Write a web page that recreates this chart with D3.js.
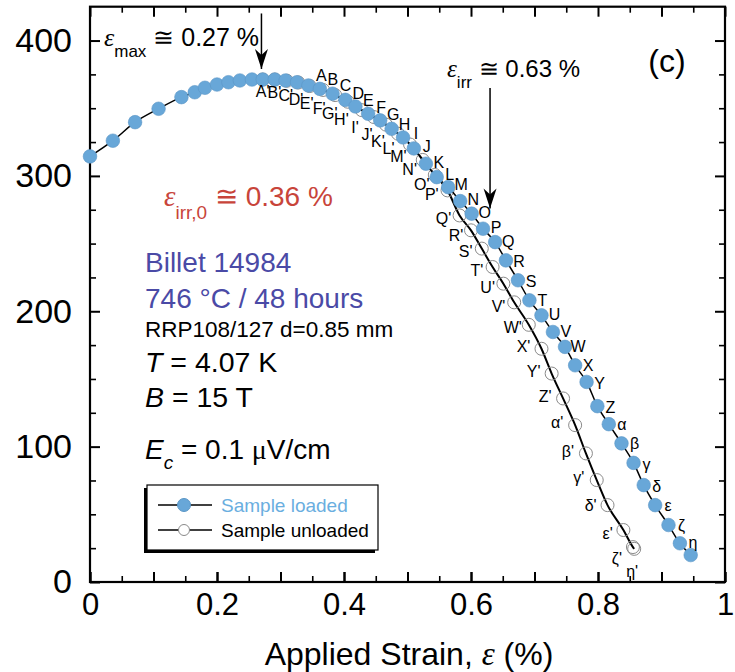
<!DOCTYPE html>
<html>
<head>
<meta charset="utf-8">
<script src="https://cdn.jsdelivr.net/npm/d3@7"></script>
<style>
  body { margin: 0; background: #fff; }
  svg text { font-family: "Liberation Sans", Arial, sans-serif; }
  .eps { font-family: "Liberation Serif", "DejaVu Serif", serif; font-style: italic; }
</style>
</head>
<body>
<svg id="chart" width="735" height="672"></svg>
<script>
// loaded: first 15 points unlabeled, then A..η, then one more
const loadedStrain = [0, 0.036, 0.071, 0.108, 0.144, 0.165, 0.181, 0.2, 0.218, 0.236, 0.255, 0.272, 0.291, 0.308, 0.326,
  0.344, 0.362, 0.382, 0.402, 0.418, 0.438, 0.457, 0.475, 0.493, 0.510, 0.529, 0.546, 0.564, 0.583, 0.601, 0.619,
  0.638, 0.655, 0.674, 0.692, 0.711, 0.729, 0.748, 0.764, 0.782, 0.799, 0.817, 0.837, 0.856, 0.872, 0.890, 0.911,
  0.929, 0.946];
const loadedIc = [314.4, 326, 339.7, 349.6, 358.2, 361.8, 365.1, 367.5, 369.2, 370.5, 371.2, 371.2, 371.2, 370.5, 369.2,
  366.8, 364.3, 360.7, 356.2, 351.3, 345.9, 341, 334.8, 328.4, 320.3, 309, 299.1, 291.7, 281.4, 272.1, 261,
  251.1, 237.6, 222.9, 208.1, 197, 184.7, 173.7, 160.1, 147.8, 129.9, 116.6, 102.4, 88, 71.6, 56.8, 42.1,
  28.6, 19.9];
const firstLabeled = 15;

// unloaded: A'..η'
const unloadedStrain = [0.272, 0.291, 0.310, 0.328, 0.346, 0.367, 0.386, 0.406, 0.428, 0.447, 0.466, 0.485, 0.504,
  0.524, 0.543, 0.563, 0.582, 0.600, 0.617, 0.634, 0.651, 0.668, 0.691, 0.711, 0.727, 0.745, 0.764, 0.781, 0.798,
  0.815, 0.840, 0.855, 0.857];
const unloadedIc = [371.2, 371.2, 370.3, 369.0, 366.4, 363.5, 359.7, 354.8, 348.6, 343.5, 337.9, 331.2, 323.2,
  311.8, 300.7, 289.3, 270.8, 259.8, 246.3, 232.7, 220.4, 206.6, 190.0, 172.3, 154.0, 135.6, 115.9, 95.0, 75.3,
  56.8, 38.4, 25.8, 24.5];

const pointNames = 'ABCDEFGHIJKLMNOPQRSTUVWXYZ'.split('').concat(['α', 'β', 'γ', 'δ', 'ε', 'ζ', 'η']);

const xLabelTicks = [0, 0.2, 0.4, 0.6, 0.8, 1];
const yLabelTicks = [0, 100, 200, 300, 400];

const blue = '#68a7d8';
const svg = d3.select('#chart');
svg.append('rect').attr('width', 735).attr('height', 672).attr('fill', '#fff');

const x = d3.scaleLinear().domain([0, 1]).range([90, 725]);
const y = d3.scaleLinear().domain([0, 425]).range([582, 6.7]);

// axes, ticks point inward on all four sides
function tickAxis (gen, tr, values, len, width, fontSize) {
  const g = svg.append('g').attr('transform', tr)
    .call(gen.tickValues(values).tickSize(-len).tickSizeOuter(0)
      .tickFormat(fontSize ? (d => d3.format('~g')(+d.toFixed(2))) : ''));
  g.select('.domain').remove();
  g.selectAll('.tick line').attr('stroke', '#000').attr('stroke-width', width);
  g.selectAll('.tick text').attr('font-size', fontSize || 0).attr('fill', '#000')
    .style('font-family', '"Liberation Sans", Arial, sans-serif');
  return g;
}
const xMajor = d3.range(0, 11).map(i => i / 10);
const xMinor = d3.range(0, 10).map(i => i / 10 + 0.05);
const yMajor = d3.range(0, 5).map(i => i * 100);
const yMinor = d3.range(0, 17).map(i => i * 25).filter(v => v % 100 !== 0);

tickAxis(d3.axisBottom(x).tickPadding(11), `translate(0,${y(0)})`, xLabelTicks, 10, 2, 31);
tickAxis(d3.axisBottom(x), `translate(0,${y(0)})`, xMajor, 10, 2);
tickAxis(d3.axisBottom(x), `translate(0,${y(0)})`, xMinor, 6, 1.6);
tickAxis(d3.axisTop(x), `translate(0,${y(425)})`, xMajor, 10, 2);
tickAxis(d3.axisTop(x), `translate(0,${y(425)})`, xMinor, 6, 1.6);
tickAxis(d3.axisLeft(y).tickPadding(18), `translate(${x(0)},0)`, yLabelTicks, 10, 2, 34);
tickAxis(d3.axisLeft(y), `translate(${x(0)},0)`, yMinor, 6, 1.6);
tickAxis(d3.axisRight(y), `translate(${x(1)},0)`, yMajor, 10, 2);
tickAxis(d3.axisRight(y), `translate(${x(1)},0)`, yMinor, 6, 1.6);

svg.append('rect')
  .attr('x', x(0)).attr('y', y(425))
  .attr('width', x(1) - x(0)).attr('height', y(0) - y(425))
  .attr('fill', 'none').attr('stroke', '#000').attr('stroke-width', 2.2);

// series
const loaded = loadedStrain.map((s, i) => ({ s, ic: loadedIc[i], i }));
const unloaded = unloadedStrain.map((s, i) => ({ s, ic: unloadedIc[i], i }));

const line = d3.line().x(d => x(d.s)).y(d => y(d.ic)).curve(d3.curveMonotoneX);

svg.append('path').datum(unloaded).attr('d', line)
  .attr('fill', 'none').attr('stroke', '#000').attr('stroke-width', 2);
svg.selectAll('.unl').data(unloaded).enter().append('circle')
  .attr('cx', d => x(d.s)).attr('cy', d => y(d.ic)).attr('r', 6.5)
  .attr('fill', 'none').attr('stroke', '#8a8a8a').attr('stroke-width', 1);

svg.append('path').datum(loaded).attr('d', line)
  .attr('fill', 'none').attr('stroke', '#000').attr('stroke-width', 1.5);
svg.selectAll('.ld').data(loaded).enter().append('circle')
  .attr('cx', d => x(d.s)).attr('cy', d => y(d.ic)).attr('r', 6.8)
  .attr('fill', blue).attr('stroke', '#5a96c6').attr('stroke-width', 0.6);

// tangent steepness of the curve at a point (0 flat .. 1 steep)
function steepness (arr, i) {
  const a = arr[Math.max(0, i - 1)], b = arr[Math.min(arr.length - 1, i + 1)];
  const ang = Math.atan2(y(b.ic) - y(a.ic), x(b.s) - x(a.s));
  return Math.min(1, Math.max(0, ang / (65 * Math.PI / 180)));
}

const lblFont = 16;
loaded.slice(firstLabeled, firstLabeled + pointNames.length).forEach((d, k) => {
  const t = steepness(loaded, d.i);
  svg.append('text')
    .attr('x', x(d.s) + 13).attr('y', y(d.ic) - 14 + 16 * t)
    .attr('dy', '0.36em').attr('text-anchor', 'middle')
    .attr('font-size', lblFont).text(pointNames[k]);
});
const nU = unloaded.length;
unloaded.forEach((d, k) => {
  const t = steepness(unloaded, d.i);
  let dx = -18 * Math.pow(t, 1.3);
  let dy = 11.5 + 36 * t - 50 * t * t;
  // the last two points overlap: one label beside, one below
  if (k === nU - 2) { dx = -16; dy = 11; }
  if (k === nU - 1) { dx = -2; dy = 22; }
  svg.append('text')
    .attr('x', x(d.s) + dx).attr('y', y(d.ic) + dy)
    .attr('dy', '0.36em').attr('text-anchor', 'middle')
    .attr('font-size', lblFont).text(pointNames[k] + "'");
});

// arrows
const defs = svg.append('defs');
defs.append('marker').attr('id', 'arr')
  .attr('markerUnits', 'userSpaceOnUse')
  .attr('viewBox', '0 -7 20 14').attr('refX', 20).attr('refY', 0)
  .attr('markerWidth', 20).attr('markerHeight', 14).attr('orient', 'auto')
  .append('path').attr('d', 'M0,-6.5 L20,0 L0,6.5 L6,0 Z').attr('fill', '#000');

function arrow (s, top, bottom) {
  svg.append('line')
    .attr('x1', x(s)).attr('x2', x(s)).attr('y1', y(top)).attr('y2', y(bottom))
    .attr('stroke', '#000').attr('stroke-width', 1.5).attr('marker-end', 'url(#arr)');
}
arrow(0.27, 420, 379);
arrow(0.63, 365, 276);

// annotations
function epsLabel (xp, yp, sub, rest, size, subSize, color) {
  const t = svg.append('text').attr('x', xp).attr('y', yp).attr('fill', color);
  t.append('tspan').attr('class', 'eps').attr('font-size', size + 1).text('ε');
  t.append('tspan').attr('font-size', subSize).attr('dy', size * 0.45).text(sub);
  t.append('tspan').attr('font-size', size).attr('dy', -size * 0.45).text(' ' + rest);
}
epsLabel(104, 46, 'max', '≅ 0.27 %', 25, 17, '#000');
epsLabel(164, 206, 'irr,0', '≅ 0.36 %', 28, 19, '#c8443a');
epsLabel(447, 77, 'irr', '≅ 0.63 %', 24, 17, '#000');

svg.append('text').attr('x', 667).attr('y', 72).attr('text-anchor', 'middle')
  .attr('font-size', 32).text('(c)');

const purple = '#4a4aa6';
svg.append('text').attr('x', 145).attr('y', 272).attr('font-size', 28).attr('fill', purple).text('Billet 14984');
svg.append('text').attr('x', 145).attr('y', 308).attr('font-size', 28).attr('fill', purple).text('746 °C / 48 hours');
svg.append('text').attr('x', 145).attr('y', 337).attr('font-size', 22.5).text('RRP108/127 d=0.85 mm');

const tT = svg.append('text').attr('x', 145).attr('y', 372).attr('font-size', 28.5);
tT.append('tspan').attr('font-style', 'italic').text('T');
tT.append('tspan').text(' = 4.07 K');
const tB = svg.append('text').attr('x', 145).attr('y', 407).attr('font-size', 28.5);
tB.append('tspan').attr('font-style', 'italic').text('B');
tB.append('tspan').text(' = 15 T');
const tE = svg.append('text').attr('x', 145).attr('y', 459).attr('font-size', 28);
tE.append('tspan').attr('font-style', 'italic').text('E');
tE.append('tspan').attr('font-size', 19).attr('font-style', 'italic').attr('dy', 10).text('c');
tE.append('tspan').attr('dy', -10).text(' = 0.1 ');
tE.append('tspan').style('font-family', '"Liberation Serif", serif').text('μ');
tE.append('tspan').text('V/cm');

// x axis title
const xt = svg.append('text').attr('x', 409).attr('y', 665).attr('text-anchor', 'middle').attr('font-size', 32);
xt.append('tspan').text('Applied Strain, ');
xt.append('tspan').attr('class', 'eps').attr('font-size', 33).text('ε');
xt.append('tspan').text(' (%)');

// legend
const lg = svg.append('g');
lg.append('rect').attr('x', 144).attr('y', 488).attr('width', 231).attr('height', 65).attr('fill', '#000');
lg.append('rect').attr('x', 147).attr('y', 485).attr('width', 231).attr('height', 65)
  .attr('fill', '#fff').attr('stroke', '#000').attr('stroke-width', 1.2);
const legendItems = [
  { name: 'Sample loaded', fill: blue, stroke: '#5a96c6', text: '#6aaee0' },
  { name: 'Sample unloaded', fill: '#fff', stroke: '#8a8a8a', text: '#000' },
];
legendItems.forEach((it, i) => {
  const cy = 505 + i * 25;
  lg.append('line').attr('x1', 158).attr('x2', 212).attr('y1', cy).attr('y2', cy)
    .attr('stroke', '#000').attr('stroke-width', 1.5);
  lg.append('circle').attr('cx', 184).attr('cy', cy).attr('r', i === 0 ? 6.5 : 5.5)
    .attr('fill', it.fill).attr('stroke', it.stroke).attr('stroke-width', 1);
  lg.append('text').attr('x', 221).attr('y', cy + 7).attr('font-size', 19)
    .attr('fill', it.text).text(it.name);
});
</script>
</body>
</html>
